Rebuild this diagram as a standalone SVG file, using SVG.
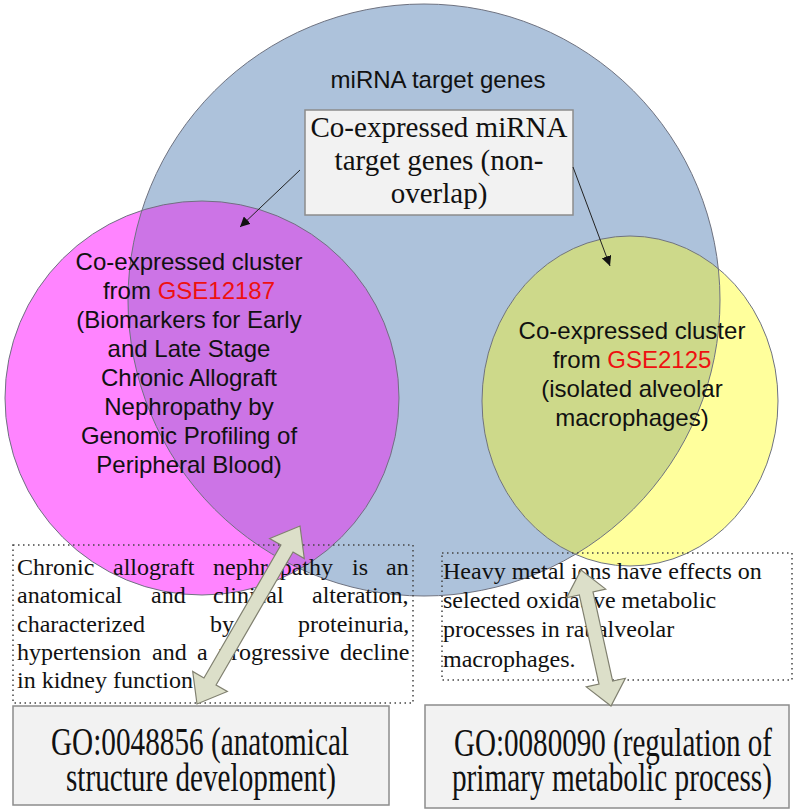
<svg xmlns="http://www.w3.org/2000/svg" width="800" height="811" viewBox="0 0 800 811">
<style>
.sans{font-family:"Liberation Sans",Arial,sans-serif;font-size:24px;fill:#111;text-anchor:middle}
.serif{font-family:"Liberation Serif","Times New Roman",serif;fill:#111}
.red{fill:#ee1111}
.edge{fill:none;stroke:#6e7280;stroke-width:1}
.box{fill:#f2f2f2;stroke:#8c8c8c;stroke-width:1.5}
.dot{fill:none;stroke:#444;stroke-width:1.5;stroke-dasharray:1.5 3.5}
.thin{stroke:#222;stroke-width:1;fill:none;marker-end:url(#ah)}
.big{fill:#dcdfc9;stroke:#808070;stroke-width:1.2}
</style>
<defs>
<marker id="ah" viewBox="0 0 10 10" refX="10" refY="5" markerWidth="10" markerHeight="10" markerUnits="userSpaceOnUse" orient="auto"><path d="M0,0 L10,5 L0,10 z" fill="#111"/></marker>
<clipPath id="cBlue"><circle cx="424" cy="300" r="296"/></clipPath>
</defs>
<rect width="800" height="811" fill="#fff"/>
<g id="blue">
<circle cx="424" cy="300" r="296" fill="#adc2db"/>
<text class="sans" x="438" y="88">miRNA target genes</text>
</g>
<g id="pink">
<circle cx="202" cy="398" r="197" fill="#ff84ff"/>
<circle cx="202" cy="398" r="197" fill="#cc74e6" clip-path="url(#cBlue)"/>
</g>
<g id="yellow">
<ellipse cx="630" cy="401" rx="148" ry="165" fill="#ffff9c"/>
<ellipse cx="630" cy="401" rx="148" ry="165" fill="#cdd98a" clip-path="url(#cBlue)"/>
</g>
<g id="outlines">
<circle class="edge" cx="424" cy="300" r="296"/>
<circle class="edge" cx="202" cy="398" r="197"/>
<ellipse class="edge" cx="630" cy="401" rx="148" ry="165"/>
</g>
<g id="pinkText" class="sans">
<text x="189" y="270">Co-expressed cluster</text>
<text x="189" y="299">from <tspan class="red">GSE12187</tspan></text>
<text x="189" y="328">(Biomarkers for Early</text>
<text x="189" y="357">and Late Stage</text>
<text x="189" y="386">Chronic Allograft</text>
<text x="189" y="415">Nephropathy by</text>
<text x="189" y="444">Genomic Profiling of</text>
<text x="189" y="473">Peripheral Blood)</text>
</g>
<g id="yellowText" class="sans">
<text x="632" y="339">Co-expressed cluster</text>
<text x="632" y="368">from <tspan class="red">GSE2125</tspan></text>
<text x="632" y="397">(isolated alveolar</text>
<text x="632" y="426">macrophages)</text>
</g>
<g id="topBox">
<rect class="box" x="305" y="110" width="268" height="105"/>
<g class="serif" font-size="29" text-anchor="middle">
<text x="439" y="137">Co-expressed miRNA</text>
<text x="439" y="170">target genes (non-</text>
<text x="439" y="203">overlap)</text>
</g>
</g>
<g id="leftNote">
<rect class="dot" x="13" y="545" width="400" height="158"/>
<g class="serif" font-size="24">
<text y="575"><tspan x="17">Chronic</tspan><tspan x="113">allograft</tspan><tspan x="213">nephropathy</tspan><tspan x="352">is</tspan><tspan x="386">an</tspan></text>
<text y="603"><tspan x="17">anatomical</tspan><tspan x="151">and</tspan><tspan x="213">clinical</tspan><tspan x="312">alteration,</tspan></text>
<text y="632"><tspan x="17">characterized</tspan><tspan x="210">by</tspan><tspan x="298">proteinuria,</tspan></text>
<text y="660"><tspan x="17">hypertension</tspan><tspan x="152">and</tspan><tspan x="197">a</tspan><tspan x="219">progressive</tspan><tspan x="340">decline</tspan></text>
<text y="688" x="17">in kidney function</text>
</g>
</g>
<g id="rightNote">
<rect class="dot" x="442" y="553" width="350" height="127"/>
<g class="serif" font-size="24">
<text x="443" y="579">Heavy metal ions have effects on</text>
<text x="443" y="608">selected oxidative metabolic</text>
<text x="443" y="637">processes in rat alveolar</text>
<text x="443" y="667">macrophages.</text>
</g>
</g>
<g id="goLeft">
<rect class="box" x="13" y="706" width="376" height="99"/>
<g class="serif" font-size="40">
<text x="51" y="755" textLength="298" lengthAdjust="spacingAndGlyphs">GO:0048856 (anatomical</text>
<text x="66" y="791" textLength="270" lengthAdjust="spacingAndGlyphs">structure development)</text>
</g>
</g>
<g id="goRight">
<rect class="box" x="425" y="705" width="364" height="103"/>
<g class="serif" font-size="40">
<text x="454" y="756" textLength="318" lengthAdjust="spacingAndGlyphs">GO:0080090 (regulation of</text>
<text x="452" y="791" textLength="320" lengthAdjust="spacingAndGlyphs">primary metabolic process)</text>
</g>
</g>
<g id="connectors">
<line class="thin" x1="300" y1="170" x2="240" y2="227"/>
<line class="thin" x1="573" y1="167" x2="610" y2="266"/>
<polygon class="big" transform="translate(300,526) rotate(120.06)" points="0,0 26,-20 26,-7 179.65,-7 179.65,-20 205.65,0 179.65,20 179.65,7 26,7 26,20"/>
<polygon class="big" transform="translate(581,570) rotate(77.56)" points="0,0 24,-20 24,-7 115.27,-7 115.27,-20 139.27,0 115.27,20 115.27,7 24,7 24,20"/>
</g>
</svg>
